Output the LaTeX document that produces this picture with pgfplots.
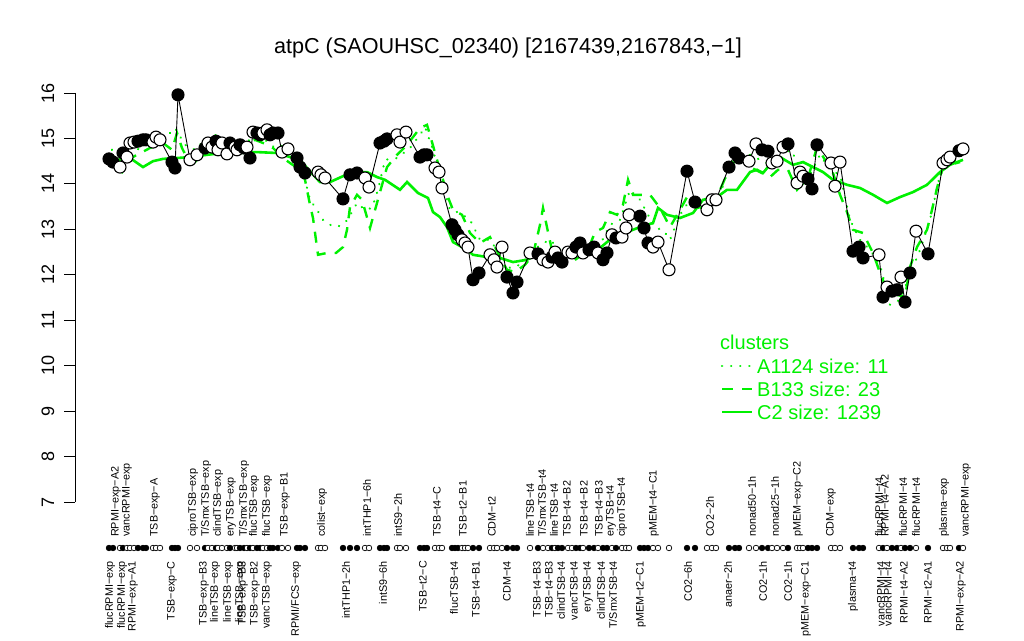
\documentclass[border=0pt]{standalone}
\usepackage{fontspec}
\setmainfont{Liberation Sans}
\usepackage{pgfplots}
\usepackage{pgfplotstable}
\pgfplotsset{compat=1.18}
\definecolor{rgreen}{RGB}{0,240,0}

% expression per condition: x position, value, filled (f) or open (o)
\pgfplotstableread{
x v c
109 14.55 f
113 14.48 f
120 14.37 o
123 14.68 f
127 14.59 o
130 14.90 o
134 14.92 o
138 14.94 f
143 14.97 f
146 14.97 f
153 14.92 o
156 15.03 o
160 14.97 o
172 14.48 f
175 14.35 f
178 15.96 f
190 14.53 o
197 14.64 o
205 14.79 f
208 14.90 o
212 14.81 o
216 14.94 f
218 14.75 o
222 14.90 o
227 14.66 o
230 14.90 f
235 14.81 o
237 14.75 o
240 14.86 f
244 14.79 f
247 14.81 o
250 14.57 f
253 15.14 o
257 15.12 f
260 15.08 f
263 15.12 o
267 15.19 o
270 15.08 f
273 15.12 f
278 15.12 f
282 14.70 o
288 14.77 o
297 14.57 f
300 14.37 f
305 14.24 f
318 14.26 o
321 14.20 o
325 14.13 o
343 13.67 f
350 14.20 f
357 14.24 f
365 14.13 o
369 13.93 o
380 14.90 f
384 14.94 f
387 14.99 f
397 15.08 o
400 14.92 o
406 15.14 o
420 14.59 f
424 14.64 f
427 14.64 f
435 14.35 o
439 14.26 o
442 13.91 o
452 13.10 f
455 12.99 f
458 12.88 f
462 12.77 o
465 12.70 o
468 12.61 o
473 11.89 f
479 12.04 f
490 12.44 o
494 12.33 o
497 12.17 o
502 12.61 o
507 11.95 f
513 11.60 f
517 11.84 f
530 12.48 o
538 12.46 f
543 12.33 o
548 12.28 o
552 12.39 f
555 12.50 o
558 12.37 f
562 12.28 f
568 12.50 o
572 12.48 o
576 12.61 f
580 12.70 f
583 12.48 o
589 12.55 f
594 12.61 f
598 12.48 o
603 12.33 f
607 12.48 f
612 12.88 o
616 12.81 f
622 12.83 o
626 13.03 o
629 13.32 o
640 13.29 f
644 13.03 f
648 12.70 f
653 12.61 o
658 12.72 o
669 12.11 o
687 14.28 f
695 13.60 f
707 13.43 o
712 13.65 o
716 13.65 o
729 14.37 f
735 14.68 f
739 14.57 f
749 14.50 o
756 14.88 o
762 14.75 f
768 14.72 f
772 14.46 o
777 14.50 o
783 14.81 o
788 14.88 f
797 14.02 o
800 14.26 o
803 14.17 o
808 14.11 f
812 13.89 f
817 14.86 f
831 14.46 o
835 13.95 o
840 14.48 o
853 12.52 f
859 12.61 f
863 12.37 f
879 12.44 o
883 11.51 f
887 11.73 o
892 11.64 f
897 11.67 f
901 11.95 o
905 11.40 f
910 12.04 f
916 12.96 o
928 12.46 f
943 14.46 o
947 14.53 o
950 14.59 o
959 14.73 f
963 14.77 o
}\expr

% cluster C2 (solid)
\pgfplotstableread{
x v
118 14.53
130 14.57
143 14.37
153 14.50
163 14.55
177 14.57
190 14.59
207 14.64
223 14.68
240 14.68
257 14.70
277 14.68
290 14.59
300 14.53
307 14.35
320 14.04
330 14.04
343 14.17
357 14.26
367 14.26
377 14.15
385 14.09
400 13.87
407 14.04
418 13.80
428 13.69
433 13.38
440 13.27
447 13.05
453 12.72
467 12.55
473 12.44
487 12.39
500 12.37
513 12.28
527 12.33
537 12.44
550 12.37
567 12.44
583 12.50
600 12.59
613 12.83
627 12.94
640 13.05
653 13.14
658 13.47
667 13.32
680 13.25
693 13.36
703 13.65
717 13.71
727 13.87
737 13.87
750 14.26
757 14.31
763 14.24
772 14.48
780 14.59
793 14.42
803 14.48
813 14.37
823 14.26
833 14.09
847 13.98
860 13.91
873 13.76
887 13.58
900 13.71
913 13.82
927 13.98
940 14.26
950 14.42
963 14.53
}\clC

% cluster B133 (dashed)
\pgfplotstableread{
x v
115 14.35
122 14.26
128 14.53
137 14.64
150 14.79
163 14.90
172 14.75
177 15.12
182 14.79
188 14.53
195 14.48
203 14.70
215 14.97
225 14.79
235 14.75
245 14.86
255 14.97
263 14.90
273 14.79
283 14.57
290 14.46
300 14.31
305 14.09
310 13.54
313 13.25
318 12.44
327 12.48
336 12.48
343 12.61
347 12.99
350 13.49
357 13.76
362 13.65
370 13.03
377 13.58
387 14.37
397 14.64
405 14.81
413 15.03
420 15.23
427 15.30
432 14.92
437 14.53
443 14.09
447 13.76
453 13.43
462 13.32
470 12.92
480 12.70
490 12.83
500 12.39
507 12.11
515 12.06
525 12.22
533 12.44
540 13.10
543 13.47
548 12.94
553 12.44
562 12.28
572 12.28
582 12.44
590 12.66
595 12.94
603 13.03
610 13.38
617 13.32
623 13.54
628 14.09
633 13.76
640 13.76
650 13.76
660 13.47
670 13.05
680 13.43
687 13.71
695 13.54
705 13.43
718 13.76
733 14.53
742 14.64
752 14.35
760 14.26
770 14.15
778 14.31
788 14.31
797 13.87
808 14.13
817 14.81
825 14.53
833 14.24
840 13.76
847 13.38
853 12.99
863 12.92
873 12.48
880 12.04
887 11.67
897 11.56
905 11.51
910 12.17
917 12.61
927 12.99
932 13.43
937 13.91
942 14.31
950 14.42
960 14.48
}\clB

% cluster A1124 (dotted)
\pgfplotstableread{
x v
112 14.75
125 14.48
137 14.75
150 14.92
165 15.01
175 15.23
185 14.86
195 14.75
205 14.97
215 15.08
225 14.97
235 14.86
245 14.92
255 15.01
265 14.97
275 14.79
285 14.86
295 14.75
303 14.26
310 13.65
317 13.43
323 13.21
330 13.10
337 13.05
345 13.14
352 13.38
357 13.58
365 13.43
372 13.47
378 13.87
385 14.53
397 14.57
410 14.79
420 15.08
425 15.25
433 14.75
440 14.15
450 13.43
460 13.36
470 13.21
480 12.77
490 12.77
500 12.44
510 12.15
520 12.22
530 12.44
540 12.66
550 12.77
560 12.55
570 12.44
580 12.55
590 12.44
600 12.66
610 13.10
620 13.21
630 13.87
640 13.65
648 13.32
655 13.03
663 12.99
670 12.77
680 13.32
690 13.65
700 13.43
710 13.54
720 13.76
730 14.42
740 14.53
750 14.64
760 14.53
770 14.42
780 14.53
790 14.75
800 14.42
810 14.20
820 14.64
830 14.31
840 14.20
850 13.21
860 12.77
870 12.55
880 12.22
890 11.34
900 11.45
910 12.00
920 12.55
930 13.21
940 14.20
950 14.46
960 14.57
}\clA

\begin{document}
\begin{tikzpicture}
\useasboundingbox (0,0) rectangle (1024pt,640pt);
\begin{axis}[
    at={(0,0)}, anchor=south west,
    scale only axis, width=1024pt, height=640pt,
    xmin=0, xmax=1024, ymin=3.963, ymax=18.047,
    hide axis, clip=false]
\addplot[rgreen, line width=2.4pt, line cap=round, dash pattern=on 0.1pt off 9pt] table[x=x,y=v] {\clA};
\addplot[rgreen, line width=2.4pt, dash pattern=on 11pt off 9pt] table[x=x,y=v] {\clB};
\addplot[rgreen, line width=2.6pt] table[x=x,y=v] {\clC};
\addplot[black, line width=0.9pt] table[x=x,y=v] {\expr};
\addplot[only marks, scatter, scatter src=explicit symbolic,
    scatter/classes={f={mark=*, draw=black, fill=black}, o={mark=*, draw=black, fill=white}},
    mark size=6pt, line width=1.1pt] table[x=x,y=v,meta=c] {\expr};
% indicator row under the axis
\addplot[only marks, scatter, scatter src=explicit symbolic,
    scatter/classes={f={mark=*, draw=black, fill=black}, o={mark=*, draw=black, fill=white}},
    mark size=2.8pt, line width=0.7pt] table[x=x,y expr=5.988,meta=c] {\expr};
\end{axis}

\begin{scope}[x=1pt,y=-1pt,yshift=640pt]
% title
\node[anchor=base, font=\fontsize{21.6}{24}\selectfont] at (508,54) {atpC (SAOUHSC\_02340) [2167439,2167843,−1]};
% y axis
\draw[line width=0.9pt] (75,93) -- (75,502);
\foreach \t in {7,...,16} {
  \pgfmathsetmacro\yy{502-(\t-7)*45.44}
  \draw[line width=0.9pt] (75,\yy) -- (64,\yy);
  \node[rotate=90, anchor=base, font=\fontsize{18}{20}\selectfont, inner sep=0pt] at (54,\yy) {\t};
}
% legend
\begin{scope}[every node/.style={text=rgreen, font=\fontsize{20}{22}\selectfont, inner sep=0pt}]
\node[anchor=base west] at (720,350) {clusters};
\draw[rgreen, line width=2.4pt, line cap=round, dash pattern=on 0.1pt off 9pt] (722,366) -- (752,366);
\draw[rgreen, line width=2.4pt, dash pattern=on 11pt off 9pt] (722,389) -- (752,389);
\draw[rgreen, line width=2.6pt] (722,412) -- (752,412);
\node[anchor=west] at (757,366) {A1124 size: 11};
\node[anchor=west] at (757,389) {B133 size: 23};
\node[anchor=west] at (757,412) {C2 size: 1239};
\end{scope}
% condition labels above the indicator row
\begin{scope}[every node/.style={rotate=90, anchor=west, inner sep=0pt, font=\fontsize{10.8}{12}\selectfont}]
\foreach \p/\s in {116/RPMI−exp−A2, 127/vancRPMI−exp, 155/TSB−exp−A, 193/ciproTSB−exp,
  206/T\slash SmxTSB−exp, 218/clindTSB−exp, 231/eryTSB−exp, 244/T\slash SmxTSB−exp,
  254/flucTSB−exp, 267/flucTSB−exp, 285/TSB−exp−B1, 322/colist−exp, 367/intTHP1−6h,
  398/intS9−2h, 437/TSB−t4−C, 463/TSB−t2−B1, 492/CDM−t2, 530/lineTSB−t4,
  542/T\slash SmxTSB−t4, 554/lineTSB−t4, 567/TSB−t4−B2, 584/TSB−t4−B2, 599/TSB−t4−B3,
  611/eryTSB−t4, 622/ciproTSB−t4, 654/pMEM−t4−C1, 710/CO2−2h, 752/nonad50−1h,
  775/nonad25−1h, 798/pMEM−exp−C2, 831/CDM−exp, 879/flucRPMI−t4, 885/RPMI−t4−A2,
  903/flucRPMI−t4, 916/flucRPMI−t4, 944/plasma−exp, 966/vancRPMI−exp}
  \node at (\p,537) {\s};
\end{scope}
% condition labels below the indicator row
\begin{scope}[every node/.style={rotate=90, anchor=east, inner sep=0pt, font=\fontsize{10.8}{12}\selectfont}]
\foreach \p/\s in {110/flucRPMI−exp, 122/flucRPMI−exp, 133/RPMI−exp−A1, 172/TSB−exp−C,
  204/TSB−exp−B3, 215/lineTSB−exp, 228/lineTSB−exp, 240/lineTSB−exp, 243/TSB−exp−B3,
  255/TSB−exp−B2, 267/vancTSB−exp, 296/RPMI\slash FCS−exp, 346/intTHP1−2h, 383/intS9−6h,
  423/TSB−t2−C, 454/flucTSB−t4, 476/TSB−t4−B1, 507/CDM−t4, 537/TSB−t4−B3, 549/TSB−t4−B3,
  561/clindTSB−t4, 574/vancTSB−t4, 588/eryTSB−t4, 601/clindTSB−t4, 613/T\slash SmxTSB−t4,
  641/pMEM−t2−C1, 688/CO2−6h, 728/anaer−2h, 763/CO2−1h, 788/CO2−1h, 806/pMEM−exp−C1,
  853/plasma−t4, 881/vancRPMI−t4, 888/vancRPMI−t4, 904/RPMI−t4−A2, 928/RPMI−t2−A1,
  961/RPMI−exp−A2}
  \node at (\p,561) {\s};
\end{scope}
\end{scope}
\end{tikzpicture}
\end{document}
